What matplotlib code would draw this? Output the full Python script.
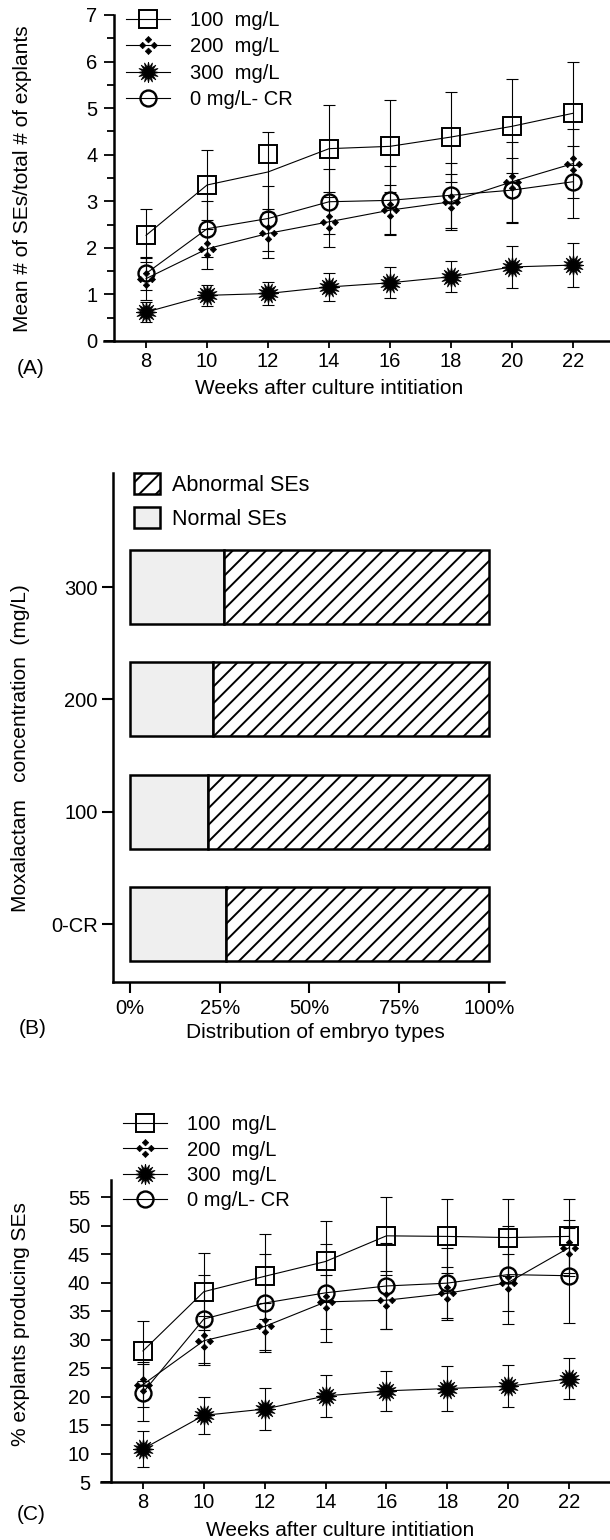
import numpy as np
import matplotlib
matplotlib.use('Agg')
import matplotlib.pyplot as plt
from matplotlib.path import Path

plt.rcParams['font.family'] = ['Liberation Sans', 'DejaVu Sans']
plt.rcParams['hatch.linewidth'] = 1.4

# Shared x values and series names
weeks = [8, 10, 12, 14, 16, 18, 20, 22]
labels = ['100  mg/L', '200  mg/L', '300  mg/L', '0 mg/L- CR']

# (A) mean number of SEs per explant
a_100 = [2.27, 3.35, 3.63, 4.13, 4.18, 4.38, 4.61, 4.89]
a_100_marks = [2.27, 3.35, 4.01, 4.13, 4.18, 4.38, 4.61, 4.89]  # square at wk 12 sits off the line
a_100_err = [0.57, 0.75, 0.86, 0.93, 0.99, 0.96, 1.01, 1.11]
a_200 = [1.34, 1.98, 2.31, 2.56, 2.81, 2.99, 3.42, 3.81]
a_200_err = [0.45, 0.43, 0.52, 0.54, 0.54, 0.60, 0.86, 0.75]
a_300 = [0.62, 0.98, 1.02, 1.16, 1.25, 1.38, 1.59, 1.63]
a_300_err = [0.22, 0.22, 0.25, 0.30, 0.33, 0.33, 0.45, 0.47]
a_cr = [1.45, 2.41, 2.63, 2.99, 3.02, 3.13, 3.24, 3.42]
a_cr_err = [0.35, 0.60, 0.70, 0.70, 0.73, 0.70, 0.70, 0.77]

# (B) distribution of embryo types (%)
b_conc = ['0-CR', '100', '200', '300']
b_normal = [26.9, 21.8, 23.1, 26.3]
b_abnormal = [100 - v for v in b_normal]

# (C) % explants producing SEs
c_100 = [28.0, 38.4, 41.1, 43.7, 48.2, 48.1, 47.9, 48.1]
c_100_err = [5.2, 6.8, 7.5, 7.1, 6.9, 6.5, 6.7, 6.5]
c_200 = [22.1, 29.8, 32.3, 36.6, 36.9, 38.1, 40.0, 46.1]
c_200_err = [4.0, 4.3, 4.2, 4.7, 5.1, 4.6, 5.0, 4.9]
c_300 = [10.8, 16.7, 17.8, 20.1, 21.0, 21.4, 21.8, 23.1]
c_300_err = [3.1, 3.3, 3.7, 3.7, 3.5, 3.9, 3.7, 3.6]
c_cr = [20.7, 33.6, 36.4, 38.2, 39.4, 39.9, 41.4, 41.2]
c_cr_err = [5.0, 7.7, 8.6, 8.6, 7.5, 6.1, 8.6, 8.3]

W, H = 610, 1540
TICK_FS = 14.5
LAB_FS = 15


def box(x0, y0, x1, y1):
    # pixel box (from top-left) -> figure fraction rect
    return [x0 / W, 1 - y1 / H, (x1 - x0) / W, (y1 - y0) / H]


def four_diamonds():
    d = 0.55
    verts, codes = [], []
    for cx, cy in [(0, 1), (0, -1), (1, 0), (-1, 0)]:
        verts += [(cx, cy + d), (cx + d, cy), (cx, cy - d), (cx - d, cy), (cx, cy + d)]
        codes += [Path.MOVETO, Path.LINETO, Path.LINETO, Path.LINETO, Path.CLOSEPOLY]
    return Path(verts, codes)


styles = [
    dict(marker='s', ms=13, mfc='none', mec='black', mew=1.4),
    dict(marker=four_diamonds(), ms=13, mfc='black', mec='black', mew=0.5),
    dict(marker=(16, 1, 0), ms=15, mfc='black', mec='black', mew=0.6),
    dict(marker='o', ms=11.5, mfc='none', mec='black', mew=1.7),
]


def line_panel(ax, series, errs, marks):
    for y, e, m, st in zip(series, errs, marks, styles):
        ax.errorbar(weeks, y, yerr=e, fmt='none', ecolor='black', elinewidth=0.8,
                    capsize=4.5, capthick=0.8, zorder=2)
        ax.plot(weeks, y, color='black', lw=0.8, zorder=3)
        ax.plot(weeks, m, ls='none', zorder=4, **st)
    for sp in ['top', 'right']:
        ax.spines[sp].set_visible(False)
    for sp in ['left', 'bottom']:
        ax.spines[sp].set_linewidth(1.8)
    ax.set_xticks(weeks)
    ax.tick_params(axis='x', direction='out', length=5, width=1.3, labelsize=TICK_FS, pad=3)
    ax.tick_params(axis='y', which='both', direction='out', width=1.3, labelsize=TICK_FS, pad=5)
    ax.tick_params(axis='y', which='major', length=7)
    ax.tick_params(axis='y', which='minor', length=5)


fig = plt.figure(figsize=(6.1, 15.4), dpi=100)
leg_handles = [plt.Line2D([], [], color='black', lw=0.8, **st) for st in styles]

# ---------------- (A)
axA = fig.add_axes(box(104, 15, 610, 341))
line_panel(axA, [a_100, a_200, a_300, a_cr],
           [a_100_err, a_200_err, a_300_err, a_cr_err],
           [a_100_marks, a_200, a_300, a_cr])
axA.set_xlim(6.62, 23.21)
axA.set_ylim(0, 7)
axA.spines['left'].set_position(('data', 6.95))
axA.set_yticks(range(0, 8))
axA.set_yticks(np.arange(0.5, 7, 1), minor=True)
axA.legend(leg_handles, labels, loc='upper left', bbox_to_anchor=(0.0435, 1.012),
           frameon=False, fontsize=14.5, borderpad=0, borderaxespad=0, handlelength=2.2,
           handletextpad=1.0, labelspacing=0.36, numpoints=1)
axA.set_ylabel('Mean # of SEs/total # of explants', fontsize=LAB_FS, va='center')
axA.yaxis.set_label_coords(23 / W, 1 - 179 / H, transform=fig.transFigure)
axA.set_xlabel('Weeks after culture intitiation', fontsize=LAB_FS, va='center')
axA.xaxis.set_label_coords(329 / W, 1 - 388 / H, transform=fig.transFigure)
fig.text(31 / W, 1 - 368 / H, '(A)', fontsize=LAB_FS, ha='center', va='center')

# ---------------- (B)
axB = fig.add_axes(box(113, 473, 504, 982))
ypos = np.arange(len(b_conc))
normal_bars = axB.barh(ypos, b_normal, height=0.66, color='#efefef', edgecolor='black',
                       linewidth=1.8, zorder=2)
abn_bars = axB.barh(ypos, b_abnormal, left=b_normal, height=0.66, color='white',
                    edgecolor='black', hatch='//', linewidth=1.8, zorder=2)
axB.set_xlim(-4.7, 104.2)
axB.set_ylim(-0.516, 4.016)
axB.set_yticks(ypos)
axB.set_yticklabels(b_conc)
axB.set_xticks([0, 25, 50, 75, 100])
axB.set_xticklabels(['0%', '25%', '50%', '75%', '100%'])
for sp in ['top', 'right']:
    axB.spines[sp].set_visible(False)
for sp in ['left', 'bottom']:
    axB.spines[sp].set_linewidth(1.8)
axB.tick_params(axis='both', direction='out', length=8, width=1.5, labelsize=TICK_FS)
axB.tick_params(axis='y', pad=3)
axB.tick_params(axis='x', pad=4)
axB.legend([abn_bars, normal_bars], ['Abnormal SEs', 'Normal SEs'], loc='upper left',
           bbox_to_anchor=(0.0537, 1.0), frameon=False, borderpad=0, borderaxespad=0,
           handlelength=1.2, handleheight=1.15, handletextpad=0.55, labelspacing=0.5,
           prop={'family': ['Liberation Sans Narrow', 'Liberation Sans'], 'size': 15.5})
axB.set_ylabel('Moxalactam   concentration  (mg/L)', fontsize=LAB_FS, va='center')
axB.yaxis.set_label_coords(21 / W, 1 - 748 / H, transform=fig.transFigure)
axB.set_xlabel('Distribution of embryo types', fontsize=LAB_FS, va='center')
axB.xaxis.set_label_coords(315 / W, 1 - 1033 / H, transform=fig.transFigure)
fig.text(33 / W, 1 - 1028 / H, '(B)', fontsize=LAB_FS, ha='center', va='center')

# ---------------- (C)
axC = fig.add_axes(box(101, 1180, 610, 1482))
line_panel(axC, [c_100, c_200, c_300, c_cr],
           [c_100_err, c_200_err, c_300_err, c_cr_err],
           [c_100, c_200, c_300, c_cr])
axC.set_xlim(6.62, 23.35)
axC.set_ylim(5, 58)
axC.spines['left'].set_position(('data', 6.95))
axC.set_yticks(range(5, 60, 5))
axC.tick_params(axis='y', which='major', length=7, pad=8)
axC.legend(leg_handles, labels, loc='upper left', bbox_to_anchor=(0.0432, 1.215),
           frameon=False, fontsize=14.5, borderpad=0, borderaxespad=0, handlelength=2.2,
           handletextpad=1.0, labelspacing=0.32, numpoints=1)
axC.set_ylabel('% explants producing SEs', fontsize=LAB_FS, va='center')
axC.yaxis.set_label_coords(21 / W, 1 - 1324 / H, transform=fig.transFigure)
axC.set_xlabel('Weeks after culture intitiation', fontsize=LAB_FS, va='center')
axC.xaxis.set_label_coords(340 / W, 1 - 1530 / H, transform=fig.transFigure)
fig.text(31 / W, 1 - 1515 / H, '(C)', fontsize=LAB_FS, ha='center', va='center')

fig.savefig('out.png', dpi=100)
